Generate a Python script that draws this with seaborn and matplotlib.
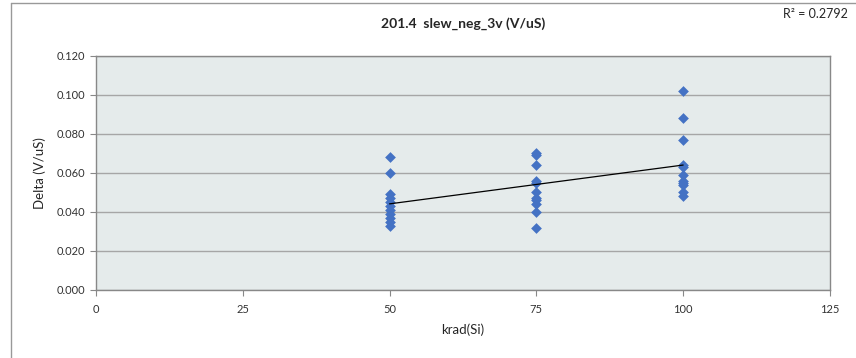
import numpy as np
import pandas as pd
import matplotlib
matplotlib.use("Agg")
import matplotlib.pyplot as plt
import seaborn as sns
from matplotlib.lines import Line2D

dose_50 = [0.068, 0.060, 0.049, 0.047, 0.045, 0.043, 0.041, 0.039, 0.037, 0.035, 0.033]
dose_75 = [0.070, 0.069, 0.064, 0.056, 0.055, 0.050, 0.047, 0.046, 0.044, 0.040, 0.032]
dose_100 = [0.102, 0.088, 0.077, 0.064, 0.063, 0.059, 0.056, 0.055, 0.054, 0.050, 0.048]
doses = [50, 75, 100]
title = "201.4  slew_neg_3v (V/uS)"
r2_text = "R² = 0.2792"

df = pd.DataFrame({
    "krad": [50] * len(dose_50) + [75] * len(dose_75) + [100] * len(dose_100),
    "delta": dose_50 + dose_75 + dose_100,
})

sns.set_style("white")
plt.rcParams["font.family"] = ["Lato", "DejaVu Sans"]

fig = plt.figure(figsize=(8.56, 3.58), dpi=100)
ax = fig.add_axes([0.1121, 0.19, 0.8575, 0.6536])
ax.set_facecolor("#E5EBEB")

ax.grid(axis="y", color="#A6A6A6", linewidth=1)
ax.set_axisbelow(True)

sns.scatterplot(data=df, x="krad", y="delta", marker="D", s=30, color="#4472C4",
                edgecolor="#4472C4", linewidth=0, ax=ax, zorder=3)

# lineare Trendlinie
k, d = np.polyfit(df["krad"], df["delta"], 1)
xs = np.array([min(doses), max(doses)])
ax.plot(xs, k * xs + d, color="black", linewidth=0.9, zorder=4)

ax.set_xlim(0, 125)
ax.set_ylim(0, 0.12)
ax.set_xticks([0, 25, 50, 75, 100, 125])
ax.set_yticks(np.arange(0, 0.121, 0.02))
ax.set_yticklabels([f"{v:.3f}" for v in np.arange(0, 0.121, 0.02)])
ax.tick_params(axis="both", labelsize=8, colors="#333333", length=4, direction="out",
               left=True, bottom=True, color="#888888")
ax.tick_params(axis="x", pad=6)

for s in ax.spines.values():
    s.set_color("#888888")
    s.set_linewidth(1)

ax.set_xlabel("krad(Si)", fontsize=9.5, labelpad=6)
ax.set_ylabel("Delta (V/uS)", fontsize=9.5, labelpad=8)
ax.set_title(title, fontsize=10, fontweight="bold", pad=20)

fig.text(0.991, 0.962, r2_text, ha="right", va="center", fontsize=9)

# Rahmen um den Diagrammbereich
fig.add_artist(Line2D([0.0129, 0.0129], [0, 0.992], transform=fig.transFigure, color="#999999", linewidth=1))
fig.add_artist(Line2D([0.0129, 1], [0.992, 0.992], transform=fig.transFigure, color="#999999", linewidth=1))

fig.savefig("out.png", dpi=100)
